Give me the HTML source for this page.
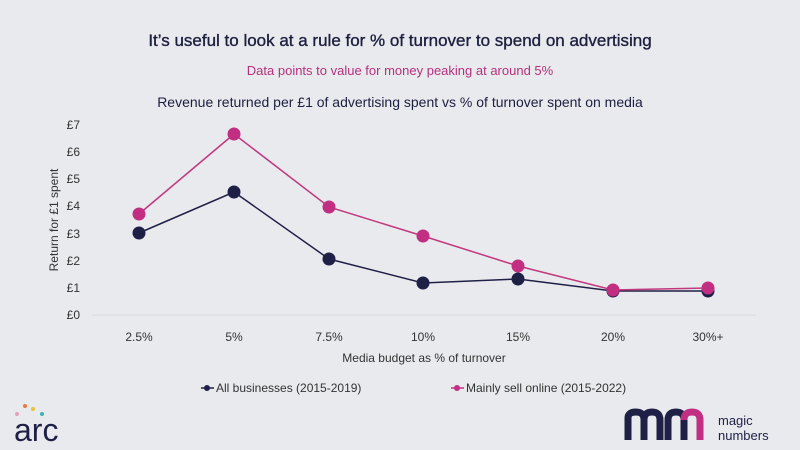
<!DOCTYPE html>
<html><head><meta charset="utf-8"><style>
html,body{margin:0;padding:0;background:#e9eaee;}
svg{display:block;font-family:"Liberation Sans",sans-serif;}
</style></head><body>
<svg width="800" height="450" viewBox="0 0 800 450">
<rect width="800" height="450" fill="#e9eaee"/>
<text x="400" y="46" text-anchor="middle" font-size="17" fill="#1c1f3e" stroke="#1c1f3e" stroke-width="0.35">It’s useful to look at a rule for % of turnover to spend on advertising</text>
<text x="400" y="75" text-anchor="middle" font-size="13" fill="#b5307c">Data points to value for money peaking at around 5%</text>
<text x="400" y="107" text-anchor="middle" font-size="14" fill="#1c1f3e">Revenue returned per £1 of advertising spent vs % of turnover spent on media</text>
<line x1="92" y1="315" x2="756" y2="315" stroke="#d8d9de" stroke-width="1"/>
<g font-size="12" fill="#333" text-anchor="end">
<text x="80" y="319">£0</text><text x="80" y="292">£1</text><text x="80" y="265">£2</text><text x="80" y="238">£3</text><text x="80" y="210">£4</text><text x="80" y="183">£5</text><text x="80" y="156">£6</text><text x="80" y="129">£7</text>
</g>
<text transform="translate(58,220) rotate(-90)" text-anchor="middle" font-size="12" fill="#333">Return for £1 spent</text>
<g font-size="12" fill="#333" text-anchor="middle">
<text x="139" y="341">2.5%</text><text x="234" y="341">5%</text><text x="329" y="341">7.5%</text><text x="423" y="341">10%</text><text x="518" y="341">15%</text><text x="613" y="341">20%</text><text x="708" y="341">30%+</text>
</g>
<text x="424" y="362" text-anchor="middle" font-size="12" fill="#333">Media budget as % of turnover</text>
<polyline points="139,233 234,192 329,259 423,283 518,279 613,291 708,291" fill="none" stroke="#1f2046" stroke-width="1.5"/>
<g fill="#1f2046"><circle cx="139" cy="233" r="6.5"/><circle cx="234" cy="192" r="6.5"/><circle cx="329" cy="259" r="6.5"/><circle cx="423" cy="283" r="6.5"/><circle cx="518" cy="279" r="6.5"/><circle cx="613" cy="291" r="6.5"/><circle cx="708" cy="291" r="6.5"/></g>
<polyline points="139,214 234,134 329,207 423,236 518,266 613,290 708,288" fill="none" stroke="#c2387f" stroke-width="1.5"/>
<g fill="#c22f82"><circle cx="139" cy="214" r="6.5"/><circle cx="234" cy="134" r="6.5"/><circle cx="329" cy="207" r="6.5"/><circle cx="423" cy="236" r="6.5"/><circle cx="518" cy="266" r="6.5"/><circle cx="613" cy="290" r="6.5"/><circle cx="708" cy="288" r="6.5"/></g>
<line x1="201" y1="388" x2="214" y2="388" stroke="#1f2046" stroke-width="1.5"/><circle cx="207" cy="388" r="3" fill="#1f2046"/>
<text x="216" y="392" font-size="12" fill="#333">All businesses (2015-2019)</text>
<line x1="451" y1="388" x2="464" y2="388" stroke="#c22f82" stroke-width="1.5"/><circle cx="457" cy="388" r="3" fill="#c22f82"/>
<text x="466" y="392" font-size="12" fill="#333">Mainly sell online (2015-2022)</text>
<text x="14" y="441" font-size="32" fill="#1f2046">arc</text>
<circle cx="17" cy="414" r="2" fill="#e3a0b8"/><circle cx="25" cy="406" r="2" fill="#e97a3c"/><circle cx="33" cy="409" r="2" fill="#e8c23b"/><circle cx="42" cy="414" r="2" fill="#3bb5b5"/>
<path d="M628 440 V418 Q628 412 636 412 Q644 412 644 420 V440 M644 420 Q644 412 652 412 Q660 412 660 420 V440 M668 440 V420 Q668 412 676 412 Q684 412 684 420 V440" fill="none" stroke="#1f2046" stroke-width="7"/>
<path d="M684 420 Q684 412 692 412 Q700 412 700 420 V440" fill="none" stroke="#c22f82" stroke-width="7"/>
<text x="718" y="425" font-size="13" fill="#1f2046">magic</text>
<text x="718" y="440" font-size="13" fill="#1f2046">numbers</text>
</svg>
</body></html>
